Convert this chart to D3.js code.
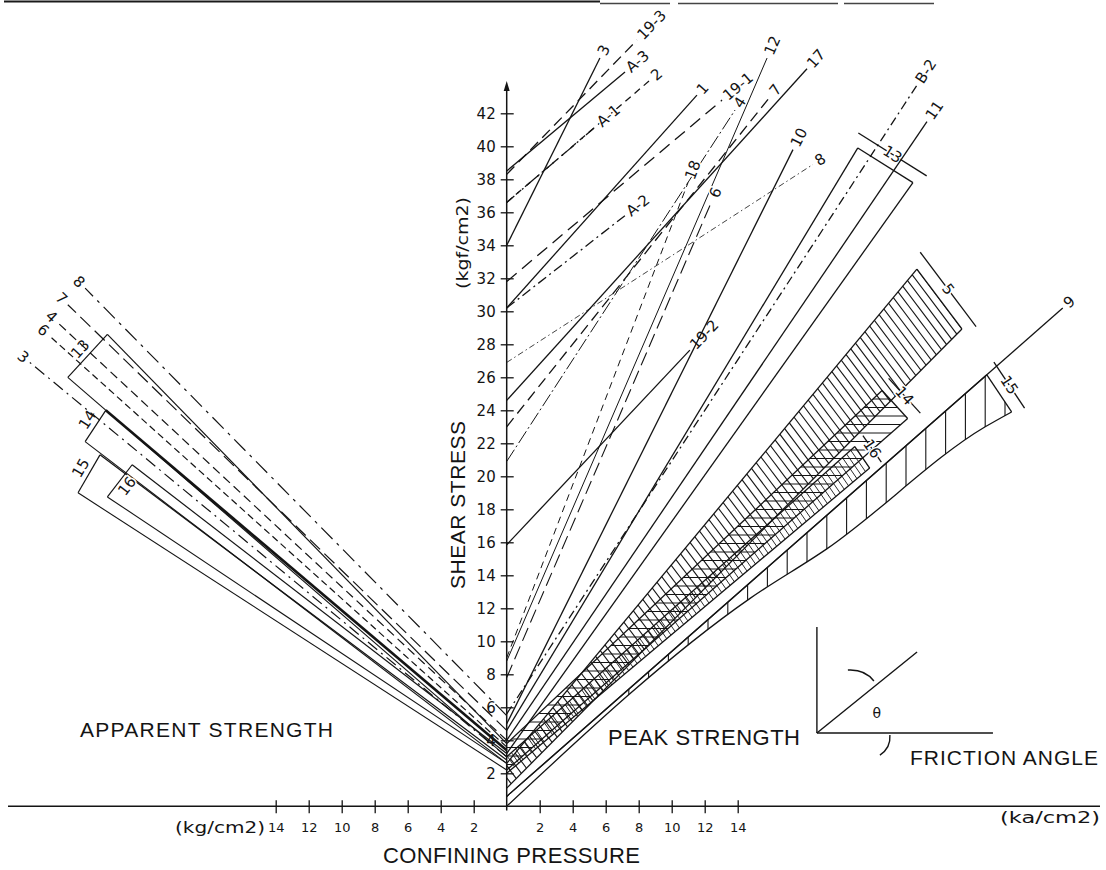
<!DOCTYPE html>
<html lang="en">
<head>
<meta charset="UTF-8">
<title>shear strength envelopes</title>
<script src="https://cdn.jsdelivr.net/npm/d3@7"></script>
<style>
  body { margin: 0; background: #fff; }
  svg { display: block; }
  .env { fill: none; stroke: #141414; stroke-width: 1.3px; }
  .tag { font-family: "DejaVu Sans", sans-serif; font-size: 14px; fill: #141414;
         dominant-baseline: central; paint-order: stroke; stroke: #fff; stroke-width: 3px; }
  .big { font-family: "Liberation Sans", Arial, sans-serif; fill: #141414; }
  .tick text { font-family: "DejaVu Sans", sans-serif; fill: #141414; }
  .tick line { stroke: #141414; stroke-width: 1.3px; }
</style>
</head>
<body>
<div id="chart"></div>
<script>
// ---- peak strength envelopes (right half): cohesion at p=0 and end of drawn line
const peakLabels = ["3", "19-3", "A-3", "2", "A-1", "1", "19-1", "A-2", "4", "12", "6", "18", "17", "7", "8", "19-2", "10", "B-2", "11", "9"];
const peakC      = [34.0, 38.3, 38.5, 36.6, 36.6, 30.2, 31.8, 30.2, 20.9, 8.8, 7.8, 9.0, 24.6, 23.0, 26.9, 15.85, 5.0, 5.6, 4.0, 0.6];
const peakEndP   = [5.65, 7.90, 7.17, 8.68, 5.41, 11.53, 13.05, 7.17, 13.84, 15.78, 12.44, 10.99, 18.2, 15.96, 18.56, 11.1, 17.35, 24.86, 25.47, 33.7];
const peakEndT   = [45.35, 46.44, 44.5, 44.0, 41.2, 43.1, 42.8, 35.8, 42.2, 45.35, 36.7, 37.8, 44.7, 43.0, 38.9, 27.65, 39.8, 43.7, 41.5, 30.2];

// ---- peak strength ranges (bands): upper and lower limit lines
const peakBands   = ["13", "5", "14", "16", "15"];
const bandUpC     = [4.6, 2.6, 3.8, 3.0, 0.6];
const bandUpEndP  = [21.28, 24.86, 22.75, 21.1, 29.1];
const bandUpEndT  = [39.9, 32.56, 25.2, 21.8, 26.15];
const bandLoC     = [3.2, 1.1, 2.2, 2.0, 0.0];
const bandLoEndP  = [24.62, 27.59, 24.3, 22.0, 30.6];
const bandLoEndT  = [37.8, 28.93, 23.5, 20.5, 23.9];
// lower limit of 15 is curved
const curve15P = [0, 14.75, 19.4, 29.0, 30.6];
const curve15T = [0, 12.6, 15.6, 23.0, 23.9];

// ---- apparent strength (left half)
const appLabels = ["8", "7", "4", "6", "3"];
const appC      = [5.5, 4.6, 4.0, 3.6, 3.0];
const appEndP   = [25.55, 26.6, 27.2, 27.7, 28.9];
const appEndT   = [31.4, 30.4, 29.3, 28.5, 26.9];
const appBands    = ["13", "14", "15", "16"];
const appUpC      = [3.8, 3.4, 2.8, 3.2];
const appUpEndP   = [24.2, 24.3, 24.65, 22.7];
const appUpEndT   = [28.6, 24.0, 21.3, 20.7];
const appLoC      = [3.0, 2.6, 2.2, 2.6];
const appLoEndP   = [26.6, 25.55, 25.98, 24.2];
const appLoEndT   = [26.0, 22.1, 19.0, 18.75];

// ---- axes
const yTicks = d3.range(2, 43, 2);
const xTicks = [2, 4, 6, 8, 10, 12, 14];

// ---- friction angle sketch (in chart units)
const sketchCorner = [18.8, 4.44];
const sketchTop = 10.87;
const sketchRight = 29.47;
const sketchRay = [24.87, 9.35];

let draw = () => {
    const W = 1106, H = 870;
    const svg = d3.select("#chart").append("svg").attr("width", W).attr("height", H);
    const defs = svg.append("defs");

    // same scale both ways, origin where the two halves meet
    const ox = 506.7, oy = 806.3, k = 16.5;
    const xR = d3.scaleLinear().domain([0, 40]).range([ox, ox + 40 * k]);
    const xL = d3.scaleLinear().domain([0, 32]).range([ox, ox - 32 * k]);
    const y = d3.scaleLinear().domain([0, 46]).range([oy, oy - 46 * k]);

    const dashR = { "19-3": "11,6", "2": "7,5", "A-1": "10,4,2,4,2,4", "19-1": "13,7", "A-2": "10,4,2,4",
                    "4": "14,3,2,3", "6": "14,6", "18": "7,5", "7": "11,6", "8": "6,3,1.5,3", "B-2": "9,4,2,4" };
    const thinR = { "8": 0.8, "12": 1.0, "4": 1.0, "18": 1.0, "6": 1.1 };
    const dashL = { "8": "16,6,3,6", "7": "14,6", "4": "9,5", "6": "7,4", "3": "12,5,2,5" };

    // frame line at top (scan edge)
    svg.append("line").attr("x1", 4).attr("x2", 600).attr("y1", 1.5).attr("y2", 1.5)
        .attr("stroke", "#1a1a1a").attr("stroke-width", 2);
    svg.append("line").attr("x1", 600).attr("x2", 940).attr("y1", 3.5).attr("y2", 3.5)
        .attr("stroke", "#444").attr("stroke-width", 1.5).attr("stroke-dasharray", "70,8,160,6,90");

    //////////////////// hatching helper ////////////////////
    let hatch = (id, d, angle, spacing, anchor, width) => {
        defs.append("clipPath").attr("id", id).append("path").attr("d", d);
        const g = svg.append("g").attr("clip-path", "url(#" + id + ")");
        const a = angle * Math.PI / 180, dx = Math.cos(a), dy = Math.sin(a);
        const nx = -dy, ny = dx;
        const R = 700;
        for (let i = -Math.ceil(R / spacing); i <= Math.ceil(R / spacing); i++) {
            const px = anchor[0] + nx * i * spacing, py = anchor[1] + ny * i * spacing;
            g.append("line")
                .attr("x1", px - dx * R).attr("y1", py - dy * R)
                .attr("x2", px + dx * R).attr("y2", py + dy * R)
                .attr("stroke", "#141414").attr("stroke-width", width);
        }
    };

    //////////////////// right bands ////////////////////
    const curve = d3.line().curve(d3.curveMonotoneX).x(d => xR(d[0])).y(d => y(d[1]));
    const lower15 = curve15P.map((p, i) => [p, curve15T[i]]);

    peakBands.forEach((lab, i) => {
        const u0 = [xR(0), y(bandUpC[i])], u1 = [xR(bandUpEndP[i]), y(bandUpEndT[i])];
        const l0 = [xR(0), y(bandLoC[i])], l1 = [xR(bandLoEndP[i]), y(bandLoEndT[i])];
        let clipD;
        if (lab === "15") {
            clipD = curve(lower15) + "L" + u1 + "L" + u0 + "Z";
        } else {
            clipD = "M" + u0 + "L" + u1 + "L" + l1 + "L" + l0 + "Z";
        }
        const capAng = Math.atan2(l1[1] - u1[1], l1[0] - u1[0]) * 180 / Math.PI;
        if (lab === "5") hatch("h5", clipD, capAng, 7.2, u1, 1.1);
        if (lab === "14") hatch("h14", clipD, 0, 8.5, u1, 1.0);
        if (lab === "16") hatch("h16", clipD, capAng, 5.5, u1, 0.9);
        if (lab === "15") hatch("h15", clipD, 90, 19.8, [xR(29.0), 0], 1.1);

        svg.append("path").attr("class", "env").attr("d", "M" + u0 + "L" + u1);
        if (lab === "15") svg.append("path").attr("class", "env").attr("d", curve(lower15));
        else svg.append("path").attr("class", "env").attr("d", "M" + l0 + "L" + l1);
        svg.append("path").attr("class", "env").attr("d", "M" + u1 + "L" + l1);

        // tick line beyond the cap with the sample number on it
        let ddx = (u1[0] - u0[0]) + (l1[0] - l0[0]), ddy = (u1[1] - u0[1]) + (l1[1] - l0[1]);
        const n = Math.hypot(ddx, ddy); ddx /= n; ddy /= n;
        const off = 13;
        const t1 = [u1[0] + ddx * off, u1[1] + ddy * off], t2 = [l1[0] + ddx * off, l1[1] + ddy * off];
        const ext = [(t2[0] - t1[0]) * 0.12, (t2[1] - t1[1]) * 0.12];
        svg.append("path").attr("class", "env")
            .attr("d", "M" + [t1[0] - ext[0], t1[1] - ext[1]] + "L" + [t2[0] + ext[0], t2[1] + ext[1]]);
        svg.append("text").attr("class", "tag").attr("text-anchor", "middle")
            .attr("transform", "translate(" + [(t1[0] + t2[0]) / 2, (t1[1] + t2[1]) / 2] + ") rotate(" + capAng + ")")
            .style("font-size", "15px")
            .text(lab);
    });

    //////////////////// right lines ////////////////////
    peakLabels.forEach((lab, i) => {
        const a = [xR(0), y(peakC[i])], b = [xR(peakEndP[i]), y(peakEndT[i])];
        svg.append("path").attr("class", "env")
            .attr("d", "M" + a + "L" + b)
            .style("stroke-dasharray", dashR[lab] || null)
            .style("stroke-width", thinR[lab] || 1.3);
        const ang = Math.atan2(b[1] - a[1], b[0] - a[0]);
        const ux = Math.cos(ang), uy = Math.sin(ang);
        svg.append("text").attr("class", "tag").attr("text-anchor", "start")
            .attr("transform", "translate(" + [b[0] + ux * 4, b[1] + uy * 4] + ") rotate(" + ang * 180 / Math.PI + ")")
            .style("font-size", "15px")
            .text(lab);
    });

    //////////////////// left bands ////////////////////
    appBands.forEach((lab, i) => {
        const u0 = [xL(0), y(appUpC[i])], u1 = [xL(appUpEndP[i]), y(appUpEndT[i])];
        const l0 = [xL(0), y(appLoC[i])], l1 = [xL(appLoEndP[i]), y(appLoEndT[i])];
        svg.append("path").attr("class", "env").attr("d", "M" + u0 + "L" + u1)
            .style("stroke-width", lab === "14" ? 2.6 : 1.2);
        svg.append("path").attr("class", "env").attr("d", "M" + l0 + "L" + l1).style("stroke-width", 1.1);
        svg.append("path").attr("class", "env").attr("d", "M" + l1 + "L" + u1).style("stroke-width", 1.2);
        const capAng = Math.atan2(u1[1] - l1[1], u1[0] - l1[0]) * 180 / Math.PI;
        let ddx = (u1[0] - u0[0]) + (l1[0] - l0[0]), ddy = (u1[1] - u0[1]) + (l1[1] - l0[1]);
        const n = Math.hypot(ddx, ddy); ddx /= n; ddy /= n;
        const inside = (lab === "16") ? -9 : 10;
        svg.append("text").attr("class", "tag").attr("text-anchor", "middle")
            .attr("transform", "translate(" + [(u1[0] + l1[0]) / 2 + ddx * inside, (u1[1] + l1[1]) / 2 + ddy * inside] + ") rotate(" + capAng + ")")
            .style("font-size", "15px")
            .text(lab);
    });

    //////////////////// left lines ////////////////////
    appLabels.forEach((lab, i) => {
        const a = [xL(0), y(appC[i])], b = [xL(appEndP[i]), y(appEndT[i])];
        svg.append("path").attr("class", "env")
            .attr("d", "M" + a + "L" + b)
            .style("stroke-dasharray", dashL[lab])
            .style("stroke-width", 1.2);
        const ang = Math.atan2(a[1] - b[1], a[0] - b[0]);
        const ux = Math.cos(ang), uy = Math.sin(ang);
        svg.append("text").attr("class", "tag").attr("text-anchor", "end")
            .attr("transform", "translate(" + [b[0] - ux * 4, b[1] - uy * 4] + ") rotate(" + ang * 180 / Math.PI + ")")
            .style("font-size", "15px")
            .text(lab);
    });

    //////////////////// axes ////////////////////
    // shear stress axis with arrow
    svg.append("line").attr("x1", ox).attr("x2", ox).attr("y1", y(-0.25)).attr("y2", y(43.6))
        .attr("stroke", "#141414").attr("stroke-width", 1.5);
    svg.append("path")
        .attr("d", "M" + [ox, y(43.6) - 6] + "L" + [ox - 3, y(43.6) + 4] + "L" + [ox + 3, y(43.6) + 4] + "Z")
        .attr("fill", "#141414");

    const yAxis = svg.append("g").attr("transform", "translate(" + ox + ",0)")
        .call(d3.axisLeft(y).tickValues(yTicks).tickSize(6));
    yAxis.select(".domain").remove();
    yAxis.selectAll(".tick line").attr("x1", 7).attr("x2", -6);
    yAxis.selectAll(".tick text").attr("x", -11).style("font-size", "15px");

    // confining pressure axis, both halves
    svg.append("line").attr("x1", 8).attr("x2", 1100).attr("y1", oy).attr("y2", oy)
        .attr("stroke", "#141414").attr("stroke-width", 1.5);
    [xR, xL].forEach(sc => {
        const g = svg.append("g").attr("transform", "translate(0," + oy + ")")
            .call(d3.axisBottom(sc).tickValues(xTicks).tickSize(6));
        g.select(".domain").remove();
        g.selectAll(".tick line").attr("y1", -6).attr("y2", 7);
        g.selectAll(".tick text").attr("y", 16).style("font-size", "13px");
    });

    svg.append("text").attr("class", "tag").attr("x", 175).attr("y", oy + 22)
        .attr("textLength", 90).attr("lengthAdjust", "spacingAndGlyphs")
        .style("font-size", "15px").text("(kg/cm2)");
    svg.append("text").attr("class", "tag").attr("x", 1000).attr("y", oy + 12)
        .attr("textLength", 100).attr("lengthAdjust", "spacingAndGlyphs")
        .style("font-size", "15px").text("(ka/cm2)");
    svg.append("text").attr("class", "tag")
        .attr("transform", "translate(463,243) rotate(-90)").attr("text-anchor", "middle")
        .attr("textLength", 92).attr("lengthAdjust", "spacingAndGlyphs")
        .style("font-size", "15px").text("(kgf/cm2)");

    //////////////////// titles ////////////////////
    svg.append("text").attr("class", "big").attr("transform", "translate(465,505) rotate(-90)")
        .attr("text-anchor", "middle").style("font-size", "21px").attr("textLength", 168).text("SHEAR STRESS");
    svg.append("text").attr("class", "big").attr("x", 80).attr("y", 737)
        .style("font-size", "21px").attr("textLength", 253).text("APPARENT STRENGTH");
    svg.append("text").attr("class", "big").attr("x", 608).attr("y", 745)
        .style("font-size", "22px").attr("textLength", 192).text("PEAK STRENGTH");
    svg.append("text").attr("class", "big").attr("x", 910).attr("y", 765)
        .style("font-size", "21px").attr("textLength", 188).text("FRICTION ANGLE");
    svg.append("text").attr("class", "big").attr("x", 383).attr("y", 863)
        .style("font-size", "22px").attr("textLength", 257).text("CONFINING PRESSURE");

    //////////////////// friction angle sketch ////////////////////
    const c = [xR(sketchCorner[0]), y(sketchCorner[1])];
    const sk = svg.append("g").attr("fill", "none").attr("stroke", "#141414").attr("stroke-width", 1.4);
    sk.append("line").attr("x1", c[0]).attr("y1", c[1]).attr("x2", c[0]).attr("y2", y(sketchTop));
    sk.append("line").attr("x1", c[0]).attr("y1", c[1]).attr("x2", xR(sketchRight)).attr("y2", c[1]);
    sk.append("line").attr("x1", c[0]).attr("y1", c[1]).attr("x2", xR(sketchRay[0])).attr("y2", y(sketchRay[1]));
    sk.append("path").attr("d", "M" + [c[0] + 31, c[1] - 63] + "Q" + [c[0] + 48, c[1] - 64] + " " + [c[0] + 57, c[1] - 52]);
    sk.append("path").attr("d", "M" + [c[0] + 73, c[1] + 2] + "Q" + [c[0] + 74, c[1] + 15] + " " + [c[0] + 63, c[1] + 22]);
    svg.append("text").attr("class", "tag").attr("x", c[0] + 60).attr("y", c[1] - 20)
        .attr("text-anchor", "middle").style("font-size", "14px").text("θ");
};

draw();
</script>
</body>
</html>
